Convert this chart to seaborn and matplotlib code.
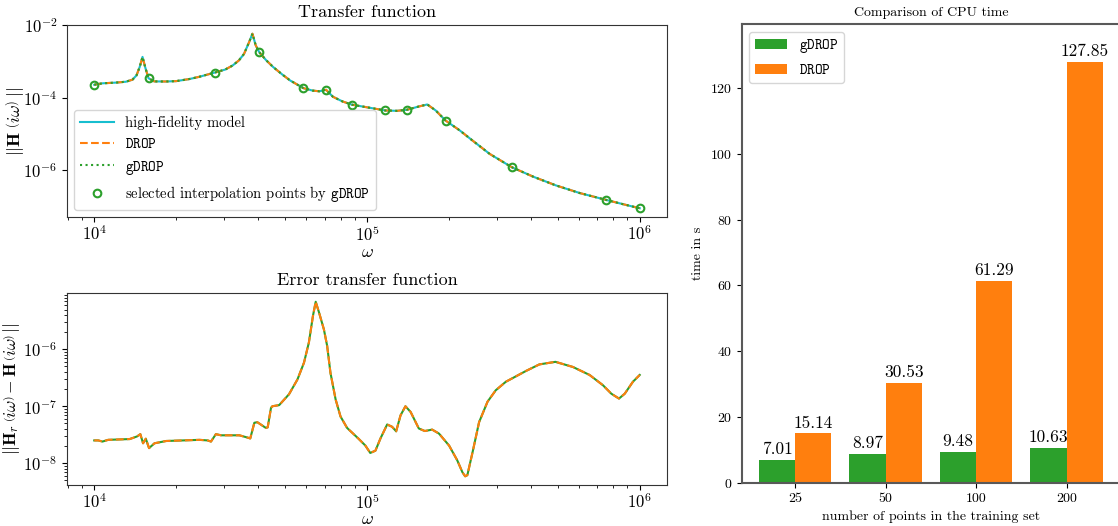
import matplotlib
matplotlib.use("Agg")
import matplotlib.pyplot as plt
import matplotlib.ticker as mticker
import numpy as np
import pandas as pd
import seaborn as sns

# transfer function (log10 of omega, log10 of |H|)
tf_logw = [4.000, 4.030, 4.080, 4.116, 4.140, 4.155, 4.167, 4.177, 4.187, 4.199,
           4.220, 4.260, 4.300, 4.350, 4.385, 4.441, 4.480, 4.507, 4.530, 4.549,
           4.568, 4.580, 4.592, 4.605, 4.630, 4.656, 4.690, 4.718, 4.767, 4.800,
           4.825, 4.850, 4.875, 4.910, 4.945, 5.006, 5.067, 5.110, 5.147, 5.190,
           5.221, 5.252, 5.288, 5.340, 5.387, 5.450, 5.531, 5.610, 5.693, 5.780,
           5.877, 5.940, 6.000]
tf_logh = [-3.64, -3.60, -3.58, -3.556, -3.50, -3.38, -3.14, -2.87, -3.16, -3.46,
           -3.547, -3.55, -3.54, -3.48, -3.42, -3.305, -3.22, -3.11, -2.97, -2.79,
           -2.46, -2.23, -2.55, -2.74, -2.96, -3.15, -3.36, -3.52, -3.733, -3.80,
           -3.82, -3.779, -3.97, -4.10, -4.19, -4.27, -4.35, -4.36, -4.33, -4.24,
           -4.184, -4.35, -4.627, -4.90, -5.18, -5.55, -5.917, -6.18, -6.42, -6.63,
           -6.82, -6.94, -7.05]

# interpolation points picked by gDROP
sel_logw = [4.0, 4.199, 4.441, 4.605, 4.767, 4.850, 4.945, 5.067, 5.147, 5.288, 5.531, 5.877, 6.0]
sel_logh = [-3.64, -3.46, -3.305, -2.74, -3.733, -3.779, -4.19, -4.35, -4.33, -4.627, -5.917, -6.82, -7.05]

# error transfer function
err_logw = [4.000, 4.015, 4.030, 4.051, 4.130, 4.157, 4.169, 4.179, 4.189, 4.201,
            4.221, 4.264, 4.386, 4.416, 4.428, 4.446, 4.465, 4.532, 4.562, 4.572,
            4.587, 4.598, 4.629, 4.636, 4.648, 4.653, 4.678, 4.714, 4.745, 4.769,
            4.787, 4.802, 4.812, 4.824, 4.842, 4.854, 4.866, 4.885, 4.903, 4.927,
            4.969, 4.994, 5.012, 5.031, 5.049, 5.074, 5.092, 5.107, 5.123, 5.141,
            5.160, 5.190, 5.212, 5.239, 5.264, 5.301, 5.331, 5.350, 5.360, 5.368,
            5.387, 5.411, 5.442, 5.472, 5.509, 5.583, 5.632, 5.691, 5.755, 5.816,
            5.865, 5.896, 5.924, 5.945, 5.975, 6.000]
err_loge = [-7.60, -7.60, -7.62, -7.59, -7.576, -7.53, -7.49, -7.65, -7.57, -7.735,
            -7.65, -7.61, -7.59, -7.60, -7.62, -7.49, -7.51, -7.51, -7.55, -7.565,
            -7.29, -7.28, -7.38, -7.37, -7.03, -7.00, -6.98, -6.79, -6.53, -6.235,
            -5.88, -5.41, -5.165, -5.35, -5.65, -5.94, -6.41, -6.88, -7.18, -7.38,
            -7.57, -7.69, -7.82, -7.78, -7.57, -7.32, -7.36, -7.44, -7.16, -7.00,
            -7.10, -7.39, -7.435, -7.41, -7.48, -7.69, -7.95, -8.16, -8.23, -8.21,
            -7.81, -7.28, -6.92, -6.72, -6.57, -6.38, -6.265, -6.22, -6.31, -6.45,
            -6.63, -6.78, -6.865, -6.78, -6.57, -6.45]

# CPU time
n_points = ['25', '50', '100', '200']
time_gdrop = [7.01, 8.97, 9.48, 10.63]
time_drop = [15.14, 30.53, 61.29, 127.85]

plt.rcParams['font.family'] = 'cmr10'
plt.rcParams['mathtext.fontset'] = 'cm'
plt.rcParams['axes.formatter.use_mathtext'] = True
plt.rcParams['axes.unicode_minus'] = False
plt.rcParams['axes.edgecolor'] = '0.2'

GREEN = '#2ca02c'
ORANGE = '#ff7f0e'
CYAN = '#17becf'

fig = plt.figure(figsize=(11.18, 5.26), dpi=100)
ax1 = fig.add_axes([0.0599, 0.5875, 0.5367, 0.365])
ax2 = fig.add_axes([0.0599, 0.0779, 0.5367, 0.365])
ax3 = fig.add_axes([0.6634, 0.0812, 0.3384, 0.8726])

# --- transfer function
w = 10 ** np.array(tf_logw)
h = 10 ** np.array(tf_logh)
ax1.set_xscale('log')
ax1.set_yscale('log')
sns.lineplot(x=w, y=h, ax=ax1, color=CYAN, lw=1.5, sort=False, estimator=None,
             label='high-fidelity model')
sns.lineplot(x=w, y=h, ax=ax1, color=ORANGE, lw=1.5, ls='--', sort=False, estimator=None,
             label=r'$\mathtt{DROP}$')
sns.lineplot(x=w, y=h, ax=ax1, color=GREEN, lw=1.5, ls=':', sort=False, estimator=None,
             label=r'$\mathtt{gDROP}$')
ax1.plot(10 ** np.array(sel_logw), 10 ** np.array(sel_logh), 'o', mfc='none', mec=GREEN,
         mew=1.5, ms=5.5, ls='none', label=r'selected interpolation points by $\mathtt{gDROP}$')
ax1.set_yticks([1e-2, 1e-4, 1e-6])
ax1.yaxis.set_minor_locator(mticker.NullLocator())
ax1.set_title('Transfer function', fontsize=13)
ax1.set_xlabel(r'$\omega$', fontsize=13)
ax1.set_ylabel(r'$||\mathbf{H}\;\left(i\omega\right)\;||$', fontsize=13)
ax1.xaxis.set_label_coords(0.5, -0.145)
ax1.yaxis.set_label_coords(-0.068, 0.5)
ax1.tick_params(labelsize=12)
ax1.tick_params(axis='x', which='major', pad=1.5)
ax1.legend(loc='lower left', fontsize=10.5, handlelength=2.3)

# --- error
we = 10 ** np.array(err_logw)
e = 10 ** np.array(err_loge)
ax2.set_xscale('log')
ax2.set_yscale('log')
sns.lineplot(x=we, y=e, ax=ax2, color=GREEN, lw=1.5, sort=False, estimator=None)
sns.lineplot(x=we, y=e, ax=ax2, color=ORANGE, lw=1.5, ls='--', sort=False, estimator=None)
ax2.set_title('Error transfer function', fontsize=13)
ax2.set_xlabel(r'$\omega$', fontsize=13)
ax2.set_ylabel(r'$||\mathbf{H}_r\,\left(i\omega\right) - \mathbf{H}\,\left(i\omega\right)\,||$',
               fontsize=12.5)
ax2.xaxis.set_label_coords(0.5, -0.14)
ax2.yaxis.set_label_coords(-0.075, 0.5)
ax2.tick_params(labelsize=12)
ax2.tick_params(axis='x', which='major', pad=1.5)

# --- CPU time bars
df = pd.DataFrame({
    'n': n_points * 2,
    'time': time_gdrop + time_drop,
    'method': [r'$\mathtt{gDROP}$'] * 4 + [r'$\mathtt{DROP}$'] * 4,
})
sns.barplot(data=df, x='n', y='time', hue='method', palette=[GREEN, ORANGE],
            saturation=1, errorbar=None, width=0.8, linewidth=0, ax=ax3)
for c in ax3.containers:
    ax3.bar_label(c, fmt='%.2f', padding=2, fontsize=12.5)
leg = ax3.get_legend()
handles = leg.legend_handles
labels = [t.get_text() for t in leg.get_texts()]
ax3.legend(handles, labels, loc='upper left', fontsize=10.5, handlelength=2.2)
ax3.set_xlim(-0.59, 3.59)
ax3.set_ylim(0, 139.2)
ax3.set_yticks([0, 20, 40, 60, 80, 100, 120])
ax3.set_title('Comparison of CPU time', fontsize=10)
ax3.set_xlabel('number of points in the training set', fontsize=10)
ax3.set_ylabel('time in s', fontsize=10)
ax3.tick_params(labelsize=10)
for sp in ax3.spines.values():
    sp.set_linewidth(1.5)
    sp.set_color('0.35')

fig.savefig('out.png', dpi=100)
